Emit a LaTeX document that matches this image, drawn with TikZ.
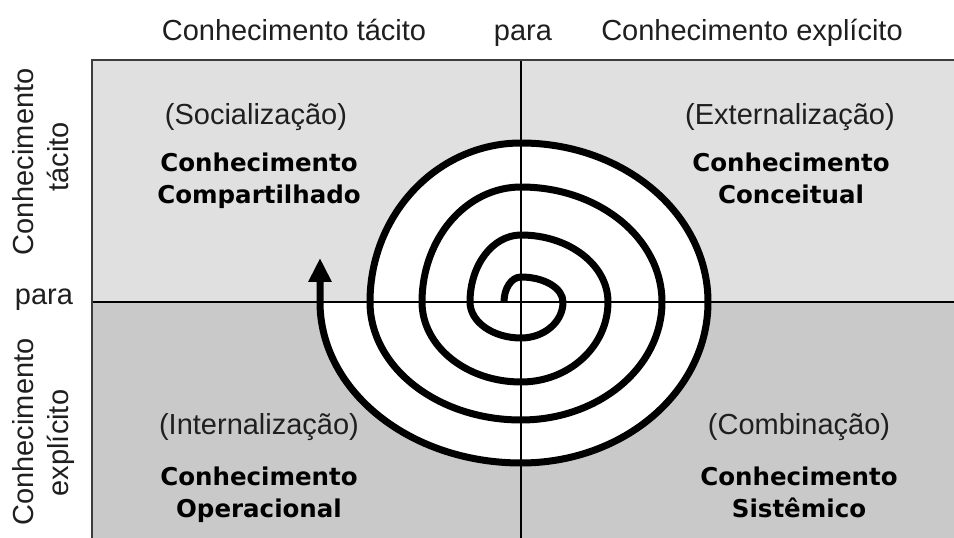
\documentclass[tikz,border=0pt]{standalone}
\usepackage{fontspec}
\setmainfont{Liberation Sans}
\newfontfamily\boldfont{DejaVu Sans}
\usetikzlibrary{arrows.meta}
\definecolor{topgray}{RGB}{224,224,224}
\definecolor{botgray}{RGB}{201,201,201}
\definecolor{framegray}{RGB}{60,60,60}
\begin{document}
\begin{tikzpicture}[x=1pt,y=1pt,
  reg/.style={font=\fontsize{29}{34}\selectfont, inner sep=0pt, anchor=base, text=black!88},
  bld/.style={font=\boldfont\bfseries\fontsize{24.5}{29}\selectfont, inner sep=0pt, anchor=base},
  spiralline/.style={line width=7pt, black},
  axisline/.style={line width=1.1pt, black}]
\useasboundingbox (0,0) rectangle (954,538);
% quadrant backgrounds
\fill[topgray] (92,236) rectangle (954,478);
\fill[botgray] (92,0) rectangle (954,236);
% white interior of the spiral
\fill[white] (370,236)
  arc[start angle=180,end angle=90,x radius=151pt,y radius=159pt]
  arc[start angle=90,end angle=0,x radius=187pt,y radius=159pt]
  arc[start angle=0,end angle=-90,x radius=187pt,y radius=161pt]
  arc[start angle=-90,end angle=-180,x radius=201pt,y radius=161pt]
  -- cycle;
% axes
\coordinate (top) at (521,478);
\coordinate (bot) at (521,0);
\coordinate (lft) at (92,236);
\coordinate (rgt) at (954,236);
\draw[axisline] (top) -- (bot);
\draw[axisline] (lft) -- (rgt);
% frame (left and top)
\draw[framegray, line width=2pt] (92,0) -- (92,478) -- (954,478);
% spiral
\coordinate (sstart) at (504,236);
\coordinate (stip) at (320,280);
\draw[spiralline, -{Triangle[width=22pt,length=24pt]}] (sstart)
  arc[start angle=180,end angle=90,x radius=17pt,y radius=25pt]
  arc[start angle=90,end angle=0,x radius=42pt,y radius=25pt]
  arc[start angle=0,end angle=-90,x radius=42pt,y radius=36pt]
  arc[start angle=-90,end angle=-180,x radius=51pt,y radius=36pt]
  arc[start angle=180,end angle=90,x radius=51pt,y radius=67pt]
  arc[start angle=90,end angle=0,x radius=87pt,y radius=67pt]
  arc[start angle=0,end angle=-90,x radius=87pt,y radius=80pt]
  arc[start angle=-90,end angle=-180,x radius=99pt,y radius=80pt]
  arc[start angle=180,end angle=90,x radius=99pt,y radius=115pt]
  arc[start angle=90,end angle=0,x radius=141pt,y radius=115pt]
  arc[start angle=0,end angle=-90,x radius=141pt,y radius=118pt]
  arc[start angle=-90,end angle=-180,x radius=151pt,y radius=118pt]
  arc[start angle=180,end angle=90,x radius=151pt,y radius=159pt]
  arc[start angle=90,end angle=0,x radius=187pt,y radius=159pt]
  arc[start angle=0,end angle=-90,x radius=187pt,y radius=161pt]
  arc[start angle=-90,end angle=-180,x radius=201pt,y radius=161pt]
  -- (stip);
% header
\node[reg] (h1) at (294,497) {Conhecimento tácito};
\node[reg] (h2) at (523,497) {para};
\node[reg] (h3) at (752,497) {Conhecimento explícito};
% left side
\node[reg, rotate=90] (l1) at (33,376) {Conhecimento};
\node[reg, rotate=90] (l2) at (68,381) {tácito};
\node[reg] (l3) at (44,233) {para};
\node[reg, rotate=90] (l4) at (33,106) {Conhecimento};
\node[reg, rotate=90] (l5) at (68,95) {explícito};
% quadrant labels
\node[reg] (q1a) at (256,413) {(Socialização)};
\node[bld] (q1b) at (259,366) {Conhecimento};
\node[bld] (q1c) at (259,334) {Compartilhado};
\node[reg] (q2a) at (790,413) {(Externalização)};
\node[bld] (q2b) at (791,366) {Conhecimento};
\node[bld] (q2c) at (791,334) {Conceitual};
\node[reg] (q3a) at (259,103) {(Internalização)};
\node[bld] (q3b) at (259,52) {Conhecimento};
\node[bld] (q3c) at (259,20) {Operacional};
\node[reg] (q4a) at (799,103) {(Combinação)};
\node[bld] (q4b) at (799,52) {Conhecimento};
\node[bld] (q4c) at (799,20) {Sistêmico};
\end{tikzpicture}
\end{document}
